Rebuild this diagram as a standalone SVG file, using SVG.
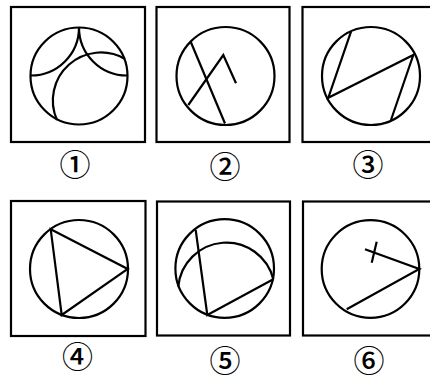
<svg xmlns="http://www.w3.org/2000/svg" width="430" height="379" viewBox="0 0 430 379">
<style>
.box{fill:none;stroke:#000;stroke-width:2.2}
.ln{fill:none;stroke:#000;stroke-width:2.2;stroke-linejoin:miter}
.lbl{font-family:"Noto Sans CJK SC","DejaVu Sans",sans-serif;font-size:31px;font-weight:500;text-anchor:middle;dominant-baseline:central;fill:#000}
</style>
<rect width="430" height="379" fill="#fff"/>
<g id="p1">
<rect class="box" x="11" y="7" width="134" height="135"/>
<circle class="ln" cx="79" cy="76" r="48.5"/>
<path class="ln" d="M79,27.5 A48,48 0 0 1 31,75.5"/>
<path class="ln" d="M79,27.5 A48,48 0 0 0 127,75.5"/>
<path class="ln" d="M57,120 A48,48 0 0 1 125,59"/>
<text class="lbl" x="75" y="162">①</text>
</g>
<g id="p2">
<rect class="box" x="156.5" y="7" width="133" height="135"/>
<circle class="ln" cx="225.5" cy="76" r="49"/>
<path class="ln" d="M190.7,41.7 L225,123.5"/>
<path class="ln" d="M188.3,105 L223.3,55 L236,83.3"/>
<text class="lbl" x="225" y="164">②</text>
</g>
<g id="p3">
<rect class="box" x="302.5" y="7" width="130" height="135"/>
<circle class="ln" cx="371" cy="76" r="49"/>
<path class="ln" d="M351,31.7 L328.3,97.7 L413.3,55 L391,120"/>
<text class="lbl" x="368" y="162">③</text>
</g>
<g id="p4">
<rect class="box" x="11" y="201" width="134.5" height="135"/>
<circle class="ln" cx="79" cy="269" r="49"/>
<path class="ln" d="M50.7,229.3 L127.7,269 L61.7,315 Z"/>
<text class="lbl" x="77.5" y="354">④</text>
</g>
<g id="p5">
<rect class="box" x="157" y="201.5" width="133" height="134"/>
<circle class="ln" cx="224.7" cy="268.5" r="49.3"/>
<path class="ln" d="M195.7,230 L207.3,315 L273.3,279.3"/>
<path class="ln" d="M178.3,286.7 A48.3,48.3 0 0 1 273.3,279.3"/>
<text class="lbl" x="225" y="358">⑤</text>
</g>
<g id="p6">
<rect class="box" x="303" y="201.5" width="130" height="134"/>
<circle class="ln" cx="370.5" cy="269" r="48.8"/>
<path class="ln" d="M346.7,309.3 L419.3,269 L365,249.3"/>
<path class="ln" d="M376.7,241.7 L371.7,262.7"/>
<text class="lbl" x="369" y="358">⑥</text>
</g>
</svg>
